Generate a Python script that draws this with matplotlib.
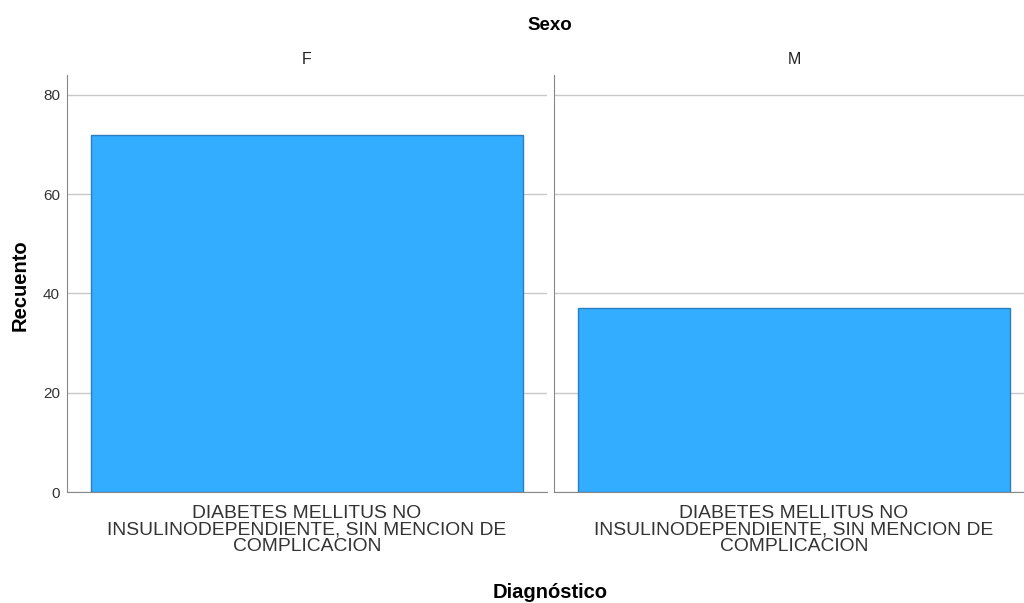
import matplotlib.pyplot as plt

plt.rcParams['font.family'] = ['Liberation Sans', 'DejaVu Sans']

# data
sexo = ['F', 'M']
recuento = [72, 37]
diagnostico = 'DIABETES MELLITUS NO\nINSULINODEPENDIENTE, SIN MENCION DE\nCOMPLICACION'

W, H = 1024, 603
fig = plt.figure(figsize=(W / 100, H / 100), dpi=100)

bar_color = '#33adff'
edge_color = '#2b7fbf'
grid_color = '#c8c8c8'
spine_color = '#888888'

panels = [(67, 547), (554, 1034)]
y_bot, y_top = 492, 75

for i, (x0, x1) in enumerate(panels):
    ax = fig.add_axes([x0 / W, (H - y_bot) / H, (x1 - x0) / W, (y_bot - y_top) / H])
    ax.bar([0], [recuento[i]], width=0.898, color=bar_color, edgecolor=edge_color,
           linewidth=1, zorder=2)
    ax.set_xlim(-0.5, 0.5)
    ax.set_ylim(0, 84)
    ax.set_yticks([0, 20, 40, 60, 80])
    ax.yaxis.grid(True, color=grid_color, linewidth=1, zorder=0)
    ax.set_axisbelow(True)
    for s in ['top', 'right']:
        ax.spines[s].set_visible(False)
    ax.spines['left'].set_color(spine_color)
    ax.spines['bottom'].set_color(spine_color)
    ax.tick_params(axis='y', length=0, labelsize=11, labelcolor='#333333', pad=5)
    ax.tick_params(axis='x', length=0, pad=9)
    ax.set_xticks([0])
    ax.set_xticklabels([diagnostico], fontsize=13.9, linespacing=0.98, color='#333333')
    if i > 0:
        ax.set_yticklabels([])
    ax.set_title(sexo[i], fontsize=11.5, pad=8, color='#222222')

fig.text(20 / W, 1 - 285 / H, 'Recuento', ha='center', va='center', rotation=90,
         fontsize=14.5, fontweight='bold')
fig.text(550 / W, 1 - 25 / H, 'Sexo', ha='center', va='center', fontsize=13.5,
         fontweight='bold')
fig.text(550 / W, 1 - 593 / H, 'Diagnóstico', ha='center', va='center', fontsize=14.5,
         fontweight='bold')

fig.savefig('out.png', dpi=100)
